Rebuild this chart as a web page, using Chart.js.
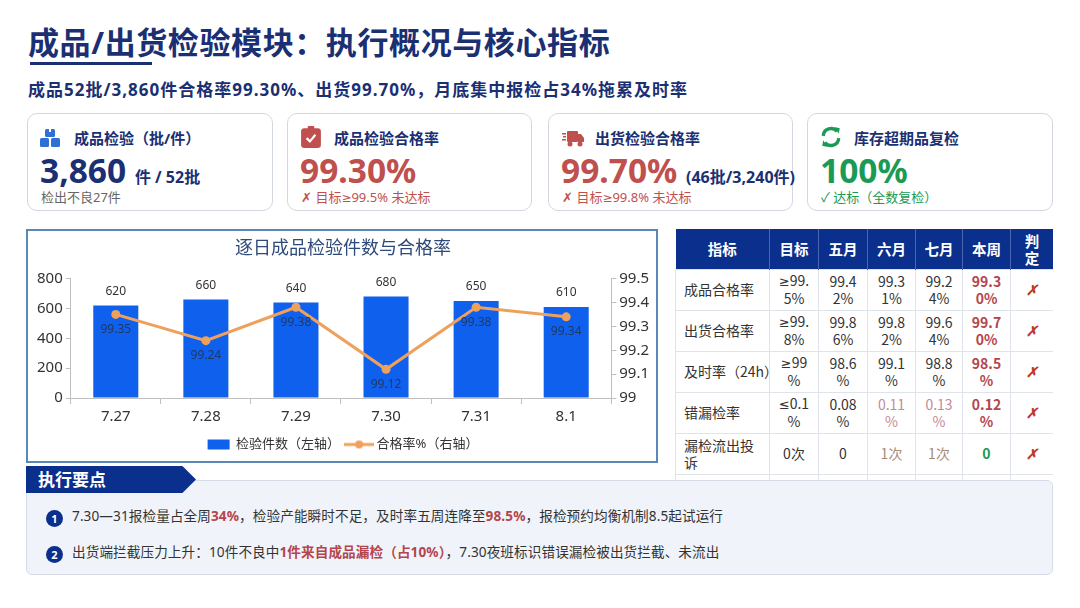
<!DOCTYPE html>
<html lang="zh-CN">
<head>
<meta charset="utf-8">
<script src="https://cdn.jsdelivr.net/npm/chart.js@4.4.1/dist/chart.umd.min.js"></script>
<style>
  * { box-sizing: border-box; margin: 0; padding: 0; }
  body { width: 1080px; height: 608px; background: #fff; font-family: "Noto Sans", "Noto Sans CJK SC", sans-serif; position: relative; overflow: hidden; color: #333; }
  .abs { position: absolute; }
  .ge { font-family: "DejaVu Sans", sans-serif; font-size: 0.92em; }
  #title { left: 28px; top: 18px; font-size: 31px; font-weight: 700; color: #1b2f73; letter-spacing: 0.6px; white-space: nowrap; }
  #underline { left: 30px; top: 62px; width: 122px; height: 3px; background: #1b2f73; }
  #subtitle { left: 28px; top: 76px; font-size: 17px; font-weight: 700; color: #1b2f73; white-space: nowrap; letter-spacing: 1px; }
  .card { position: absolute; top: 113px; height: 98px; border: 1px solid #d3d8e0; border-radius: 10px; background: #fff; }
  .card .icon { position: absolute; left: 12px; top: 14px; width: 20px; height: 20px; }
  .card .ct { position: absolute; left: 46px; top: 13px; font-size: 15px; font-weight: 700; color: #1b2f73; white-space: nowrap; }
  .card .big { position: absolute; left: 12px; top: 34px; font-size: 33.5px; font-weight: 700; white-space: nowrap; line-height: 44px; }
  .card .big small { font-size: 16px; color: #1b2f73; }
  .card .sub { position: absolute; left: 13px; top: 73px; font-size: 13px; white-space: nowrap; }
  #chartBox { left: 26px; top: 229px; width: 632px; height: 234px; border: 2px solid #5b87b6; background: #fff; }
  #chartBox canvas { position: absolute; left: 0; top: 0; }
  #tblWrap { left: 675px; top: 229px; width: 378px; height: 252px; overflow: hidden; }
  table { border-collapse: collapse; table-layout: fixed; width: 378px; font-size: 14px; font-family: "Noto Sans CJK SC", sans-serif; }
  th { background: #0b2f8c; color: #fff; font-weight: 700; height: 40px; font-size: 14.5px; line-height: 17px; border-right: 1px solid #4a66b0; }
  td { height: 41px; text-align: center; border: 1px solid #dfe3ea; line-height: 17px; color: #333; }
  td.l { text-align: left; padding-left: 8px; white-space: nowrap; }
  .r { color: #b5454c; font-weight: 700; }
  .p { color: #c48a98; }
  .b { color: #a58c78; }
  .g { color: #1a9a55; font-weight: 700; }
  .x { color: #c0392b; font-style: italic; font-weight: 700; }
  #panel { left: 26px; top: 480px; width: 1027px; height: 95px; background: #f0f4fa; border: 1px solid #d5dce8; border-radius: 6px; }
  #tab { left: 26px; top: 466px; width: 170px; height: 27px; background: #0b2f8c; clip-path: polygon(0 0, 92% 0, 100% 50%, 92% 100%, 0 100%); color: #fff; font-size: 17px; font-weight: 700; padding-left: 12px; line-height: 27px; }
  .item { position: absolute; left: 46px; font-size: 13.6px; color: #333; white-space: nowrap; letter-spacing: 0.1px; }
  .item .n { display: inline-block; width: 17px; height: 17px; border-radius: 50%; background: #0b2f8c; color: #fff; font-size: 11px; font-weight: 700; text-align: center; line-height: 17px; margin-right: 9px; vertical-align: -2px; letter-spacing: 0; }
  .item b { color: #b5454c; }
</style>
</head>
<body>
<div id="title" class="abs">成品/出货检验模块：执行概况与核心指标</div>
<div id="underline" class="abs"></div>
<div id="subtitle" class="abs">成品52批/3,860件合格率99.30%、出货99.70%，月底集中报检占34%拖累及时率</div>

<div class="card" style="left:27px;width:246px;">
  <svg class="icon" viewBox="0 0 20 20"><rect x="5" y="1" width="10" height="8" rx="1.5" fill="#2f6fd6"/><rect x="0" y="10" width="9" height="9" rx="1.5" fill="#2f6fd6"/><rect x="11" y="10" width="9" height="9" rx="1.5" fill="#2f6fd6"/><rect x="9" y="1" width="2" height="3" fill="#fff"/></svg>
  <div class="ct">成品检验（批/件）</div>
  <div class="big" style="color:#1b2f73;">3,860 <small>件 / 52批</small></div>
  <div class="sub" style="color:#666;">检出不良27件</div>
</div>
<div class="card" style="left:287px;width:245px;">
  <svg class="icon" viewBox="0 0 20 20" style="width:22px;height:22px;top:12px;"><rect x="1" y="2" width="18" height="18" rx="3" fill="#c0504d"/><rect x="7" y="0" width="6" height="4" rx="1" fill="#c0504d"/><path d="M6 11 l3 3 l5 -6" stroke="#fff" stroke-width="2" fill="none"/></svg>
  <div class="ct">成品检验合格率</div>
  <div class="big" style="color:#c0504d;">99.30%</div>
  <div class="sub" style="color:#c0504d;">✗ 目标<span class="ge">≥</span>99.5% 未达标</div>
</div>
<div class="card" style="left:548px;width:245px;">
  <svg class="icon" viewBox="0 0 22 20" style="width:24px;"><rect x="5" y="3" width="11" height="11" rx="1" fill="#c0504d"/><path d="M16 6 h3 l3 4 v4 h-6z" fill="#c0504d"/><circle cx="8" cy="16" r="2.5" fill="#c0504d"/><circle cx="18" cy="16" r="2.5" fill="#c0504d"/><rect x="0" y="5" width="4" height="1.5" fill="#c0504d"/><rect x="1" y="8" width="3" height="1.5" fill="#c0504d"/><rect x="0" y="11" width="4" height="1.5" fill="#c0504d"/></svg>
  <div class="ct">出货检验合格率</div>
  <div class="big" style="color:#c0504d;">99.70% <small>(46批/3,240件)</small></div>
  <div class="sub" style="color:#c0504d;">✗ 目标<span class="ge">≥</span>99.8% 未达标</div>
</div>
<div class="card" style="left:807px;width:246px;">
  <svg class="icon" viewBox="0 0 20 20" style="width:22px;height:22px;top:12px;"><path d="M3 9 A7 7 0 0 1 15.5 5" stroke="#1a9a55" stroke-width="3" fill="none"/><path d="M13 1 l5 1 l-1 5z" fill="#1a9a55"/><path d="M17 11 A7 7 0 0 1 4.5 15" stroke="#1a9a55" stroke-width="3" fill="none"/><path d="M7 19 l-5 -1 l1 -5z" fill="#1a9a55"/></svg>
  <div class="ct">库存超期品复检</div>
  <div class="big" style="color:#1a9a55;">100%</div>
  <div class="sub" style="color:#1a9a55;">✓ 达标（全数复检）</div>
</div>

<div id="chartBox" class="abs"><canvas id="c" width="628" height="230"></canvas></div>

<div id="tblWrap" class="abs">
<table>
  <colgroup><col style="width:94px"><col style="width:49px"><col style="width:49px"><col style="width:48px"><col style="width:47px"><col style="width:48px"><col style="width:43px"></colgroup>
  <tr><th>指标</th><th>目标</th><th>五月</th><th>六月</th><th>七月</th><th>本周</th><th>判<br>定</th></tr>
  <tr><td class="l">成品合格率</td><td><span class="ge">≥</span>99.<br>5%</td><td>99.4<br>2%</td><td>99.3<br>1%</td><td>99.2<br>4%</td><td class="r">99.3<br>0%</td><td class="x">✗</td></tr>
  <tr><td class="l">出货合格率</td><td><span class="ge">≥</span>99.<br>8%</td><td>99.8<br>6%</td><td>99.8<br>2%</td><td>99.6<br>4%</td><td class="r">99.7<br>0%</td><td class="x">✗</td></tr>
  <tr><td class="l">及时率（24h）</td><td><span class="ge">≥</span>99<br>%</td><td>98.6<br>%</td><td>99.1<br>%</td><td>98.8<br>%</td><td class="r">98.5<br>%</td><td class="x">✗</td></tr>
  <tr><td class="l">错漏检率</td><td><span class="ge">≤</span>0.1<br>%</td><td>0.08<br>%</td><td class="p">0.11<br>%</td><td class="p">0.13<br>%</td><td class="r">0.12<br>%</td><td class="x">✗</td></tr>
  <tr><td class="l">漏检流出投<br>诉</td><td>0次</td><td>0</td><td class="b">1次</td><td class="b">1次</td><td class="g">0</td><td class="x">✗</td></tr>
  <tr><td class="l">&nbsp;</td><td></td><td></td><td></td><td></td><td></td><td></td></tr>
</table>
</div>

<div id="panel" class="abs"></div>
<div id="tab" class="abs">执行要点</div>
<div class="item" style="top:505px;"><span class="n">1</span>7.30—31报检量占全周<b>34%</b>，检验产能瞬时不足，及时率五周连降至<b>98.5%</b>，报检预约均衡机制8.5起试运行</div>
<div class="item" style="top:541px;"><span class="n">2</span>出货端拦截压力上升：10件不良中<b>1件来自成品漏检（占10%）</b>，7.30夜班标识错误漏检被出货拦截、未流出</div>

<script>
const days = ['7.27', '7.28', '7.29', '7.30', '7.31', '8.1'];
const inspectedCount = [620, 660, 640, 680, 650, 610];
const passRate = [99.35, 99.24, 99.38, 99.12, 99.38, 99.34];
const countTicks = [0, 200, 400, 600, 800];
const rateTicks = [99, 99.1, 99.2, 99.3, 99.4, 99.5];

const FONT = '"Noto Sans", "Noto Sans CJK SC", sans-serif';
const BLUE = '#1060ee';
const ORANGE = '#eea15c';

// legend marker for the line series: short line with a dot
const lineMark = document.createElement('canvas');
lineMark.width = 30; lineMark.height = 10;
(function () {
  const g = lineMark.getContext('2d');
  g.strokeStyle = ORANGE; g.lineWidth = 3;
  g.beginPath(); g.moveTo(0, 5); g.lineTo(30, 5); g.stroke();
  g.fillStyle = ORANGE;
  g.beginPath(); g.arc(15, 5, 4, 0, Math.PI * 2); g.fill();
})();

// value labels above bars and below points
const valueLabels = {
  id: 'valueLabels',
  afterDatasetsDraw(chart) {
    const ctx = chart.ctx;
    ctx.save();
    ctx.textAlign = 'center';
    ctx.textBaseline = 'middle';
    ctx.font = '12px ' + FONT;
    chart.getDatasetMeta(0).data.forEach((el, i) => {
      ctx.fillStyle = '#333';
      ctx.fillText(inspectedCount[i], el.x, el.y - 14);
    });
    chart.getDatasetMeta(1).data.forEach((el, i) => {
      ctx.fillStyle = '#1f3864';
      ctx.fillText(passRate[i].toFixed(2), el.x, el.y + 15);
    });
    ctx.restore();
  }
};

new Chart(document.getElementById('c'), {
  data: {
    labels: days,
    datasets: [
      {
        type: 'bar',
        label: '检验件数（左轴）',
        data: inspectedCount,
        backgroundColor: BLUE,
        yAxisID: 'y',
        categoryPercentage: 0.5,
        barPercentage: 1,
        order: 2
      },
      {
        type: 'line',
        label: '合格率%（右轴）',
        data: passRate,
        borderColor: ORANGE,
        backgroundColor: ORANGE,
        borderWidth: 3,
        pointRadius: 4.5,
        pointBackgroundColor: ORANGE,
        pointBorderWidth: 0,
        yAxisID: 'y1',
        order: 1
      }
    ]
  },
  options: {
    responsive: false,
    animation: false,
    layout: { padding: { left: 6, right: 4, top: 2, bottom: 0 } },
    plugins: {
      title: {
        display: true,
        text: '逐日成品检验件数与合格率',
        color: '#2e4a78',
        font: { family: FONT, size: 18, weight: 'normal' },
        padding: { top: 5, bottom: 19 }
      },
      legend: {
        position: 'bottom',
        labels: {
          usePointStyle: true,
          pointStyleWidth: 22,
          boxHeight: 10,
          color: '#333',
          font: { family: FONT, size: 13 },
          padding: 8,
          generateLabels(chart) {
            return chart.data.datasets.map((ds, i) => ({
              text: ds.label,
              fillStyle: i === 0 ? BLUE : ORANGE,
              strokeStyle: i === 0 ? BLUE : ORANGE,
              lineWidth: 0,
              pointStyle: i === 0 ? 'rect' : lineMark,
              datasetIndex: i,
              fontColor: '#333'
            }));
          }
        }
      },
      tooltip: { enabled: false }
    },
    scales: {
      x: {
        grid: { display: true, drawOnChartArea: false, offset: true, tickLength: 6, color: '#bfbfbf' },
        border: { color: '#bfbfbf' },
        ticks: { color: '#333', font: { family: FONT, size: 15 }, padding: 4 }
      },
      y: {
        position: 'left',
        min: 0, max: 800,
        afterBuildTicks(axis) { axis.ticks = countTicks.map(v => ({ value: v })); },
        grid: { display: true, drawOnChartArea: false, tickLength: 5, color: '#bfbfbf' },
        border: { color: '#bfbfbf' },
        ticks: { color: '#333', font: { family: FONT, size: 15 }, padding: 3 }
      },
      y1: {
        position: 'right',
        min: 99, max: 99.5,
        afterBuildTicks(axis) { axis.ticks = rateTicks.map(v => ({ value: v })); },
        grid: { display: true, drawOnChartArea: false, tickLength: 5, color: '#bfbfbf' },
        border: { color: '#bfbfbf' },
        ticks: { color: '#333', font: { family: FONT, size: 15 }, padding: 3, callback: v => String(+v.toFixed(1)) }
      }
    }
  },
  plugins: [valueLabels]
});
</script>
</body>
</html>
